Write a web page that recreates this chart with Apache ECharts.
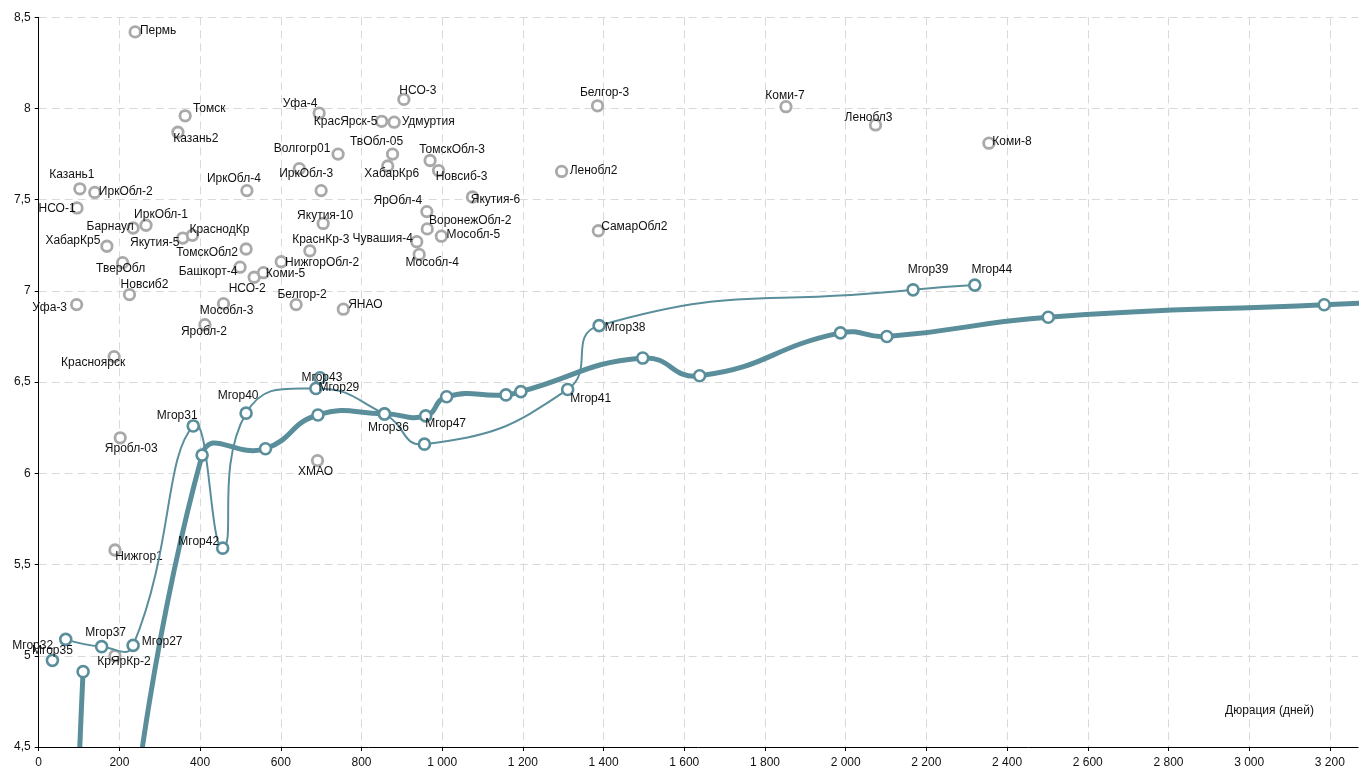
<!DOCTYPE html>
<html>
<head>
<meta charset="utf-8">
<script src="https://cdn.jsdelivr.net/npm/echarts@6/dist/echarts.min.js"></script>
<style>
    html, body { margin: 0; padding: 0; background: #fff; }
    #chart { width: 1368px; height: 769px; }
</style>
</head>
<body>
<div id="chart"></div>
<script>

// Regions (grey points)
var regionNames = ['Пермь', 'Томск', 'Казань2', 'Казань1', 'ИркОбл-2', 'НСО-1', 'ИркОбл-1', 'Барнаул',
    'Якутия-5', 'КраснодКр', 'ХабарКр5', 'ТомскОбл2', 'ТверОбл', 'Башкорт-4', 'НСО-2', 'Коми-5',
    'НижгорОбл-2', 'КраснКр-3', 'Новсиб2', 'Уфа-3', 'Мособл-3', 'Белгор-2', 'ЯНАО', 'Яробл-2',
    'Красноярск', 'Яробл-03', 'ХМАО', 'Нижгор1', 'КрЯрКр-2', 'Уфа-4', 'КрасЯрск-5', 'Удмуртия',
    'НСО-3', 'Волгогр01', 'ТвОбл-05', 'ИркОбл-3', '', 'ХабарКр6', 'ТомскОбл-3', 'Новсиб-3',
    'Якутия-6', 'ЯрОбл-4', 'ВоронежОбл-2', 'Мособл-5', 'Чувашия-4', 'Мособл-4', 'Якутия-10', 'ИркОбл-4',
    'Белгор-3', 'Коми-7', 'Ленобл3', 'Коми-8', 'Ленобл2', 'СамарОбл2'];
var regionDays = [239, 363, 345, 102, 139, 95, 266, 234,
    357, 381, 169, 514, 208, 499, 534, 557,
    601, 672, 225, 94, 458, 638, 755, 412,
    187, 202, 691, 189, 189, 695, 850, 881,
    905, 742, 877, 700, 646, 865, 970, 991,
    1075, 962, 963, 998, 937, 943, 705, 516,
    1385, 1852, 2074, 2355, 1296, 1387];
var regionYield = [8.42, 7.96, 7.87, 7.56, 7.54, 7.455, 7.36, 7.345,
    7.29, 7.305, 7.245, 7.23, 7.155, 7.13, 7.075, 7.10,
    7.16, 7.22, 6.98, 6.925, 6.93, 6.925, 6.90, 6.815,
    6.64, 6.195, 6.07, 5.58, 5.0, 7.975, 7.93, 7.925,
    8.05, 7.75, 7.75, 7.55, 7.67, 7.685, 7.715, 7.66,
    7.515, 7.435, 7.34, 7.30, 7.27, 7.20, 7.37, 7.55,
    8.015, 8.01, 7.91, 7.81, 7.655, 7.33];

// Moscow bonds, thin curve
var mgorNames = ['Мгор32', 'Мгор37', 'Мгор27', 'Мгор31', 'Мгор42', 'Мгор40', 'Мгор29', 'Мгор36',
    '', 'Мгор41', 'Мгор38', 'Мгор39', 'Мгор44'];
var mgorDays = [67, 156, 234, 383, 456, 514, 687, 857, 956, 1311, 1389, 2167, 2320];
var mgorYield = [5.09, 5.05, 5.057, 6.26, 5.59, 6.33, 6.465, 6.325, 6.16, 6.46, 6.81, 7.006, 7.032];

// Moscow bonds, single points
var mgorSoloNames = ['Мгор35', 'Мгор43'];
var mgorSoloDays = [34, 697];
var mgorSoloYield = [4.975, 6.524];

// Thick curve
var curveNames = ['', '', '', '', '', '', 'Мгор47', '', '', '', '', '', '', '', '', '', ''];
var curveDays = [110, 112, 405, 562, 692, 857, 959, 1011, 1158, 1195, 1497, 1638, 1987, 2102, 2502, 3186, 3400];
var curveYield = [4.913, 2.5, 6.10, 6.135, 6.32, 6.327, 6.315, 6.42, 6.43, 6.448, 6.632, 6.535, 6.77, 6.75, 6.856, 6.924, 6.945];

// Label offsets (text centre relative to the marker)
var labelOffsets = {
    'Пермь': [23, -1], 'Томск': [24, -7], 'Казань2': [18, 6], 'Казань1': [-8, -14],
    'ИркОбл-2': [31, -1], 'НСО-1': [-20, 1], 'ИркОбл-1': [15, -11], 'Барнаул': [-23, -1],
    'Якутия-5': [-28, 5], 'КраснодКр': [27, -6], 'ХабарКр5': [-34, -6], 'ТомскОбл2': [-39, 4],
    'ТверОбл': [-2, 6], 'Башкорт-4': [-32, 4], 'НСО-2': [-7, 11], 'Коми-5': [22, 1],
    'НижгорОбл-2': [41, 1], 'КраснКр-3': [11, -11], 'Новсиб2': [15, -10], 'Уфа-3': [-27, 3],
    'Мособл-3': [3, 7], 'Белгор-2': [6, -10], 'ЯНАО': [22, -4], 'Яробл-2': [-1, 7],
    'Красноярск': [-21, 6], 'Яробл-03': [11, 11], 'ХМАО': [-2, 11], 'Нижгор1': [24, 7],
    'КрЯрКр-2': [9, 6], 'Уфа-4': [-19, -9], 'КрасЯрск-5': [-36, 0], 'Удмуртия': [34, -1],
    'НСО-3': [14, -9], 'Волгогр01': [-36, -5], 'ТвОбл-05': [-16, -12], 'ИркОбл-3': [-15, -17],
    'ХабарКр6': [4, 8], 'ТомскОбл-3': [22, -11], 'Новсиб-3': [23, 6], 'Якутия-6': [23, 3],
    'ЯрОбл-4': [-29, -11], 'ВоронежОбл-2': [43, -8], 'Мособл-5': [32, -2], 'Чувашия-4': [-34, -3],
    'Мособл-4': [13, 8], 'Якутия-10': [2, -8], 'ИркОбл-4': [-13, -12], 'Белгор-3': [7, -13],
    'Коми-7': [-1, -11], 'Ленобл3': [-7, -7], 'Коми-8': [23, -1], 'Ленобл2': [32, -1],
    'СамарОбл2': [36, -4],
    'Мгор32': [-33, 6], 'Мгор35': [0, -10], 'Мгор37': [4, -14], 'Мгор27': [29, -4],
    'Мгор31': [-16, -10], 'Мгор42': [-24, -6], 'Мгор40': [-8, -17], 'Мгор43': [2, 0],
    'Мгор29': [23, -1], 'Мгор36': [4, 14], 'Мгор47': [20, 8], 'Мгор41': [23, 9],
    'Мгор38': [26, 2], 'Мгор39': [15, -20], 'Мгор44': [17, -15]
};

var TEAL = '#5a8e9b';
var GREY = '#a9a9a9';
var FONT = '"Liberation Sans", Arial, sans-serif';

// Build scatter data from the arrays
var buildData = function(names, xs, ys) {
    var out = [];
    for (var i = 0; i < xs.length; i++) {
        var name = names[i];
        var item = { name: name, value: [xs[i], ys[i]] };
        if (name && labelOffsets[name]) {
            item.label = { show: true, offset: labelOffsets[name] };
        } else {
            item.label = { show: false };
        }
        out.push(item);
    }
    return out;
};

var pairs = function(xs, ys) {
    return xs.map(function(x, i) { return [x, ys[i]]; });
};

// Excel-like smoothed path (bezier, no control point clamping)
var smoothPath = function(pts, s) {
    var n = pts.length;
    var prevCp = [], nextCp = [];
    for (var i = 0; i < n; i++) {
        var p = pts[i];
        if (i === 0 || i === n - 1) {
            prevCp.push(p);
            nextCp.push(p);
            continue;
        }
        var a = pts[i - 1], b = pts[i + 1];
        var vx = b[0] - a[0], vy = b[1] - a[1];
        var d0 = Math.hypot(p[0] - a[0], p[1] - a[1]);
        var d1 = Math.hypot(b[0] - p[0], b[1] - p[1]);
        var r = (d0 + d1) > 0 ? d1 / (d0 + d1) : 0.5;
        prevCp.push([p[0] - vx * s * (1 - r), p[1] - vy * s * (1 - r)]);
        nextCp.push([p[0] + vx * s * r, p[1] + vy * s * r]);
    }
    var d = 'M' + pts[0][0] + ' ' + pts[0][1];
    for (var j = 1; j < n; j++) {
        d += ' C' + nextCp[j - 1][0] + ' ' + nextCp[j - 1][1] + ' ' +
            prevCp[j][0] + ' ' + prevCp[j][1] + ' ' + pts[j][0] + ' ' + pts[j][1];
    }
    return d;
};

var curveRenderer = function(xs, ys, width) {
    return function(params, api) {
        if (params.dataIndex !== 0) {
            return null;
        }
        var pts = xs.map(function(x, i) { return api.coord([x, ys[i]]); });
        return {
            type: 'path',
            shape: { pathData: smoothPath(pts, 0.5) },
            style: { fill: 'none', stroke: TEAL, lineWidth: width, lineJoin: 'round', lineCap: 'butt' }
        };
    };
};

var baseLabel = {
    show: true,
    position: 'inside',
    formatter: '{b}',
    fontFamily: FONT,
    fontSize: 12,
    color: '#111',
    textBorderWidth: 0,
    textBorderColor: 'transparent'
};

var tealMarker = {
    type: 'scatter',
    z: 5,
    symbol: 'circle',
    symbolSize: 11,
    itemStyle: { color: '#fff', borderColor: TEAL, borderWidth: 2.6, opacity: 1 },
    label: baseLabel
};

// Define element
var chart_element = document.getElementById('chart');
var chart = echarts.init(chart_element, null, { renderer: 'canvas' });

var options = {
    animation: false,
    textStyle: { fontFamily: FONT },
    grid: {
        left: 38.7,
        right: 9.9,
        top: 17.3,
        bottom: 21.7
    },
    xAxis: {
        type: 'value',
        min: 0,
        max: 3270,
        interval: 200,
        axisLine: { show: true, lineStyle: { color: '#000', width: 1 } },
        axisTick: { show: true, length: 4, lineStyle: { color: '#000' } },
        axisLabel: {
            showMaxLabel: false,
            fontFamily: FONT,
            fontSize: 12,
            color: '#111',
            margin: 10,
            formatter: function(v) {
                return String(v).replace(/\B(?=(\d{3})+(?!\d))/g, ' ');
            }
        },
        splitLine: { show: true, showMaxLine: false, lineStyle: { color: '#d9d9d9', type: [8, 5] } }
    },
    yAxis: {
        type: 'value',
        min: 4.5,
        max: 8.5,
        interval: 0.5,
        axisLine: { show: true, lineStyle: { color: '#000', width: 1 } },
        axisTick: { show: true, length: 4, lineStyle: { color: '#000' } },
        axisLabel: {
            fontFamily: FONT,
            fontSize: 12,
            color: '#111',
            margin: 8,
            formatter: function(v) {
                return String(v).replace('.', ',');
            }
        },
        splitLine: { show: true, lineStyle: { color: '#d9d9d9', type: [8, 5] } }
    },
    graphic: [{
        type: 'text',
        left: 1225,
        top: 705,
        style: { text: 'Дюрация (дней)', font: '12px ' + FONT, fill: '#111' }
    }],
    series: [{
        name: 'Регионы',
        type: 'scatter',
        z: 1,
        symbol: 'circle',
        symbolSize: 10.5,
        itemStyle: { color: '#fff', borderColor: GREY, borderWidth: 2.8, opacity: 1 },
        label: baseLabel,
        data: buildData(regionNames, regionDays, regionYield)
    }, {
        name: 'Кривая',
        type: 'custom',
        z: 3,
        clip: true,
        renderItem: curveRenderer(curveDays, curveYield, 5),
        data: pairs(curveDays, curveYield)
    }, {
        name: 'Мгор линия',
        type: 'custom',
        z: 3,
        clip: true,
        renderItem: curveRenderer(mgorDays, mgorYield, 2),
        data: pairs(mgorDays, mgorYield)
    }, Object.assign({}, tealMarker, {
        name: 'Кривая точки',
        data: buildData(curveNames, curveDays, curveYield)
    }), Object.assign({}, tealMarker, {
        name: 'Мгор',
        data: buildData(mgorNames, mgorDays, mgorYield)
    }), Object.assign({}, tealMarker, {
        name: 'Мгор (точки)',
        data: buildData(mgorSoloNames, mgorSoloDays, mgorSoloYield)
    })]
};

chart.setOption(options);

</script>
</body>
</html>
